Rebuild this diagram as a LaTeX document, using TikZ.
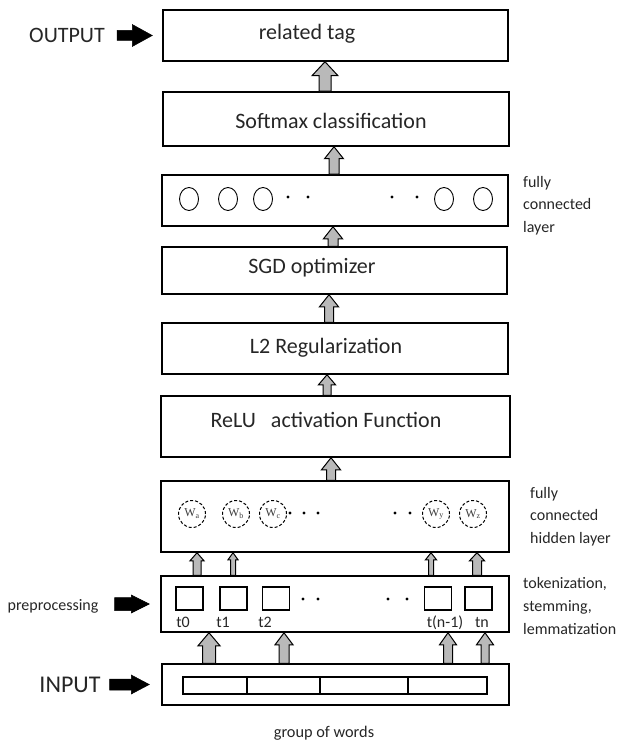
\documentclass[tikz,border=0pt]{standalone}
\usepackage{fontspec}
\setmainfont{Carlito}
\newfontfamily\serifw{Liberation Serif}
\usetikzlibrary{calc,shapes.geometric}
\tikzset{
  box/.style={draw, line width=1.5pt, rectangle, inner sep=0pt},
  maintxt/.style={inner sep=0pt, anchor=base, font=\fontsize{22}{26}\selectfont, text=black!85},
  sidetxt/.style={inner sep=0pt, anchor=north west, align=left, font=\fontsize{16}{22.5}\selectfont, text=black!85},
  smalltxt/.style={inner sep=0pt, anchor=base, font=\fontsize{16}{20}\selectfont, text=black!85},
  blockarr/.style={fill=gray!55, draw=black, line width=1pt},
  blackarr/.style={fill=black, draw=black, line width=0.5pt},
  fcunit/.style={draw, ellipse, line width=0.9pt, minimum width=19pt, minimum height=23pt, inner sep=0pt},
  hunit/.style={draw, circle, densely dashed, line width=1pt, minimum size=27pt, inner sep=0pt, font=\serifw\fontsize{12}{13}\selectfont, text=black!75},
  tokbox/.style={draw, line width=1.2pt, minimum width=27pt, minimum height=23pt, inner sep=0pt},
  dotnode/.style={circle, fill=black, inner sep=0pt, minimum size=3.2pt},
  wordbox/.style={draw, line width=1.2pt, minimum height=17pt, inner sep=0pt},
}
\newcommand\upblock[5]{\filldraw[blockarr] let \p1=(#1), \p2=(#2) in
  (\x1-#3pt,\y1) -- (\x1-#3pt,\y2-#5pt) -- (\x1-#4pt,\y2-#5pt) -- (\x1,\y2)
  -- (\x1+#4pt,\y2-#5pt) -- (\x1+#3pt,\y2-#5pt) -- (\x1+#3pt,\y1) -- cycle;}
\newcommand\rightblock[5]{\filldraw[blackarr] let \p1=(#1), \p2=(#2) in
  (\x1,\y1-#3pt) -- (\x2-#5pt,\y1-#3pt) -- (\x2-#5pt,\y1-#4pt) -- (\x2,\y1)
  -- (\x2-#5pt,\y1+#4pt) -- (\x2-#5pt,\y1+#3pt) -- (\x1,\y1+#3pt) -- cycle;}
\begin{document}
\begin{tikzpicture}[x=1pt,y=-1pt]
\useasboundingbox (0,0) rectangle (621,743);
% layer boxes
\node[box, minimum width=345, minimum height=51] (tag) at (335.5,35.5) {};
\node[box, minimum width=346, minimum height=54] (softmax) at (336,119) {};
\node[box, minimum width=346, minimum height=51] (fc) at (335,200.5) {};
\node[box, minimum width=345, minimum height=47] (sgd) at (334.5,270.5) {};
\node[box, minimum width=346, minimum height=51] (l2) at (335,348.5) {};
\node[box, minimum width=349, minimum height=61] (relu) at (335.5,426.5) {};
\node[box, minimum width=348, minimum height=71] (hidden) at (335,516.5) {};
\node[box, minimum width=348, minimum height=56] (prep) at (335,604) {};
\node[box, minimum width=347, minimum height=41] (input) at (335.5,684.5) {};
% box texts
\node[maintxt] (tagtxt) at (307,40) {related tag};
\node[maintxt] (smtxt) at (331,129) {Softmax classification};
\node[maintxt] (sgdtxt) at (312,273.5) {SGD optimizer};
\node[maintxt] (l2txt) at (326,353.5) {L2 Regularization};
\node[maintxt] (relutxt) at (326,427) {ReLU\ \ \ activation Function};
% left labels
\node[maintxt] (outtxt) at (67,43) {OUTPUT};
\node[maintxt, font=\fontsize{24}{28}\selectfont] (intxt) at (70,692.5) {INPUT};
\node[smalltxt] (preptxt) at (53,610) {preprocessing};
\node[smalltxt, font=\fontsize{16.3}{20}\selectfont] (gowtxt) at (324,737.5) {group of words};
% right labels
\node[sidetxt] (fclab) at (523,176) {fully\\connected\\layer};
\node[sidetxt] (hidlab) at (530,487) {fully\\connected\\hidden layer};
\node[sidetxt, font=\fontsize{16}{23}\selectfont] (toklab) at (523,577) {tokenization,\\stemming,\\lemmatization};
% fully connected layer units
\node[fcunit] (f1) at (189,199) {};
\node[fcunit] (f2) at (228,199) {};
\node[fcunit] (f3) at (263,199) {};
\node[fcunit] (f4) at (444,199) {};
\node[fcunit] (f5) at (483,199) {};
\node[dotnode] (fd1) at (288,197) {};
\node[dotnode] (fd2) at (308,197) {};
\node[dotnode] (fd3) at (392,197) {};
\node[dotnode] (fd4) at (417,197) {};
% hidden layer units
\node[hunit] (h1) at (192,514) {W\textsubscript{a}};
\node[hunit] (h2) at (236,514) {W\textsubscript{b}};
\node[hunit] (h3) at (273,514) {W\textsubscript{c}};
\node[hunit] (h4) at (436,514) {W\textsubscript{y}};
\node[hunit] (h5) at (473,514) {W\textsubscript{z}};
\node[dotnode] (hd1) at (290,513) {};
\node[dotnode] (hd2) at (304,513) {};
\node[dotnode] (hd3) at (318,513) {};
\node[dotnode] (hd4) at (395,513) {};
\node[dotnode] (hd5) at (410,513) {};
% tokens
\node[tokbox] (t0) at (189.5,598.5) {};
\node[tokbox] (t1) at (233.5,598.5) {};
\node[tokbox] (t2) at (276,598.5) {};
\node[tokbox] (tn1) at (438,598.5) {};
\node[tokbox] (tn) at (478.5,598.5) {};
\node[smalltxt] (t0l) at (183,627) {t0};
\node[smalltxt] (t1l) at (223,627) {t1};
\node[smalltxt] (t2l) at (265,627) {t2};
\node[smalltxt] (tn1l) at (445,627) {t(n-1)};
\node[smalltxt] (tnl) at (482,627) {tn};
\node[dotnode] (pd1) at (303,599) {};
\node[dotnode] (pd2) at (318,599) {};
\node[dotnode] (pd3) at (388,599) {};
\node[dotnode] (pd4) at (407,599) {};
% word boxes
\node[wordbox, minimum width=64] (w1) at (215,685.5) {};
\node[wordbox, minimum width=73] (w2) at (283.5,685.5) {};
\node[wordbox, minimum width=88] (w3) at (364,685.5) {};
\node[wordbox, minimum width=79] (w4) at (447.5,685.5) {};
% x positions of arrows
\coordinate (a1) at (325,0);
\coordinate (a2) at (334,0);
\coordinate (a3) at (333,0);
\coordinate (a4) at (329,0);
\coordinate (a5) at (327,0);
\coordinate (a6) at (331,0);
\coordinate (b1) at (197,0);
\coordinate (b2) at (233,0);
\coordinate (b3) at (431,0);
\coordinate (b4) at (477,0);
\coordinate (c1) at (209,0);
\coordinate (c2) at (284,0);
\coordinate (c3) at (448,0);
\coordinate (c4) at (485,0);
% block arrows between layers
\upblock{softmax.north -| a1}{tag.south -| a1}{6}{13}{14}
\upblock{fc.north -| a2}{softmax.south -| a2}{5}{9.5}{12}
\upblock{sgd.north -| a3}{fc.south -| a3}{5}{9.5}{12}
\upblock{l2.north -| a4}{sgd.south -| a4}{4.5}{9.5}{12}
\upblock{relu.north -| a5}{l2.south -| a5}{4}{8.5}{10}
\upblock{hidden.north -| a6}{relu.south -| a6}{4.5}{9.5}{12}
\upblock{prep.north -| b1}{hidden.south -| b1}{4}{7}{8}
\upblock{prep.north -| b2}{hidden.south -| b2}{2.5}{5}{7}
\upblock{prep.north -| b3}{hidden.south -| b3}{2.5}{5.5}{7}
\upblock{prep.north -| b4}{hidden.south -| b4}{4.5}{7.5}{8}
\upblock{input.north -| c1}{prep.south -| c1}{6.5}{11}{13}
\upblock{input.north -| c2}{prep.south -| c2}{5}{9}{12}
\upblock{input.north -| c3}{prep.south -| c3}{4.5}{8.5}{12}
\upblock{input.north -| c4}{prep.south -| c4}{4}{8.5}{12}
% black arrows
\rightblock{$(outtxt.east |- tag.west)+(12,0)$}{$(tag.west)+(-10,0)$}{5}{11}{20}
\rightblock{$(intxt.east |- input.west)+(9,0)$}{$(input.west)+(-12,0)$}{5.5}{9.5}{18}
\rightblock{$(preptxt.east |- prep.west)+(16,0)$}{$(prep.west)+(-11,0)$}{6.5}{9}{18}
\end{tikzpicture}
\end{document}
